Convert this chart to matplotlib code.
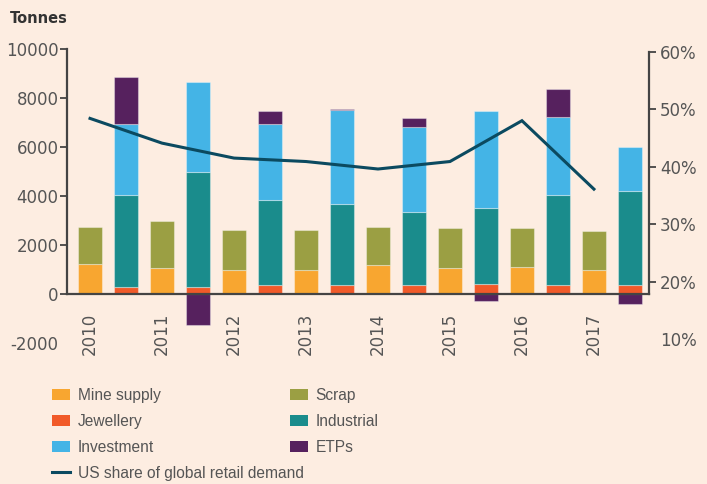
import numpy as np
import matplotlib
matplotlib.use("Agg")
import matplotlib.pyplot as plt
from matplotlib.patches import Patch
from matplotlib.lines import Line2D

# data (tonnes)
years = [2010, 2011, 2012, 2013, 2014, 2015, 2016, 2017]
mine_supply = [1230, 1060, 1000, 1000, 1170, 1060, 1110, 1000]
scrap = [1520, 1930, 1630, 1630, 1580, 1620, 1570, 1560]
jewellery = [300, 300, 350, 350, 350, 410, 350, 350]
industrial = [3730, 4670, 3500, 3320, 2980, 3100, 3680, 3860]
investment = [2920, 3680, 3100, 3820, 3470, 3950, 3180, 1770]
etps = [1920, -1280, 530, 60, 370, -290, 1170, -400]
us_share = [48.4, 44.1, 41.5, 40.9, 39.6, 40.9, 48.0, 36.1]

bg = "#fdede1"
c_mine = "#f8a630"
c_scrap = "#9b9f43"
c_jew = "#f15a29"
c_ind = "#1a8c8c"
c_inv = "#44b4e6"
c_etp = "#56215e"
c_line = "#0b4a60"
txt = "#555555"
axc = "#444444"

fig = plt.figure(figsize=(7.07, 4.84), dpi=100, facecolor=bg)
ax = fig.add_axes([67/707, 1-343/484, 582/707, 294/484])
ax.set_facecolor(bg)

n = len(years)
xs = np.arange(n) * 2      # supply bars
xd = xs + 1                # demand bars
w = 0.67
ek = dict(edgecolor=(1, 1, 1, 0.35), linewidth=0.8)

ax.bar(xs, mine_supply, w, color=c_mine, **ek)
ax.bar(xs, scrap, w, bottom=mine_supply, color=c_scrap, **ek)

jw = np.array(jewellery)
ind = np.array(industrial)
inv = np.array(investment)
et = np.array(etps)
ax.bar(xd, jw, w, color=c_jew, **ek)
ax.bar(xd, ind, w, bottom=jw, color=c_ind, **ek)
ax.bar(xd, inv, w, bottom=jw + ind, color=c_inv, **ek)
etp_bottom = np.where(et > 0, jw + ind + inv, 0)
ax.bar(xd, et, w, bottom=etp_bottom, color=c_etp, **ek)

ax.set_xlim(-0.64, 2 * n - 1 + 0.53)
ax.set_ylim(-2000, 10000)
ax.set_yticks([0, 2000, 4000, 6000, 8000, 10000])
ax.set_yticklabels(["0", "2000", "4000", "6000", "8000", "10000"])
ax.set_yticks([-2000], minor=True)
ax.set_yticklabels(["-2000"], minor=True)
ax.set_xticks(xs)
ax.set_xticklabels([str(y) for y in years])

for s in ["top", "right"]:
    ax.spines[s].set_visible(False)
ax.spines["bottom"].set_position(("data", 0))
ax.spines["left"].set_bounds(0, 10000)
for s in ["bottom", "left"]:
    ax.spines[s].set_color(axc)
    ax.spines[s].set_linewidth(1.6)
ax.tick_params(axis="y", which="both", length=5, width=1.3, color=axc,
               labelsize=12, labelcolor=txt, pad=1)
ax.tick_params(axis="y", which="minor", length=0, pad=6)
ax.tick_params(axis="x", length=0, labelsize=12, labelcolor=txt, pad=13.5,
               labelrotation=90)

# right axis: US share line
ax2 = ax.twinx()
ax2.plot(xs, us_share, color=c_line, linewidth=2.2, solid_joinstyle="miter")
ax2.set_ylim(9.34, 60.47)
ax2.set_yticks([20, 30, 40, 50, 60])
ax2.set_yticklabels(["20%", "30%", "40%", "50%", "60%"])
ax2.set_yticks([10], minor=True)
ax2.set_yticklabels(["10%"], minor=True)
for s in ["top", "left", "bottom"]:
    ax2.spines[s].set_visible(False)
ax2.spines["right"].set_bounds(17.9, 60)
ax2.spines["right"].set_color(axc)
ax2.spines["right"].set_linewidth(1.6)
ax2.tick_params(axis="y", which="both", length=5, width=1.3, color=axc,
                labelsize=12, labelcolor=txt, pad=3)
ax2.tick_params(axis="y", which="minor", length=0, pad=8)

fig.text(10/707, 1-18.5/484, "Tonnes", fontsize=10.5, fontweight="bold",
         color="#333333", va="center", ha="left")

# legend: two columns placed separately
col1 = [
    Patch(facecolor=c_mine, label="Mine supply"),
    Patch(facecolor=c_jew, label="Jewellery"),
    Patch(facecolor=c_inv, label="Investment"),
    Line2D([0], [0], color=c_line, linewidth=2.2, label="US share of global retail demand"),
]
col2 = [
    Patch(facecolor=c_scrap, label="Scrap"),
    Patch(facecolor=c_ind, label="Industrial"),
    Patch(facecolor=c_etp, label="ETPs"),
]
legkw = dict(loc="upper left", frameon=False, borderpad=0, borderaxespad=0,
             handlelength=1.15, handleheight=0.65, handletextpad=0.5,
             labelspacing=0.7,
             prop={"family": ["Liberation Sans", "DejaVu Sans"], "size": 11.2})
leg1 = fig.legend(handles=col1, bbox_to_anchor=(52/707, 1-388/484), **legkw)
leg2 = fig.legend(handles=col2, bbox_to_anchor=(290/707, 1-388/484), **legkw)
for lg in (leg1, leg2):
    for t in lg.get_texts():
        t.set_color(txt)

fig.savefig("out.png", dpi=100, facecolor=bg)
